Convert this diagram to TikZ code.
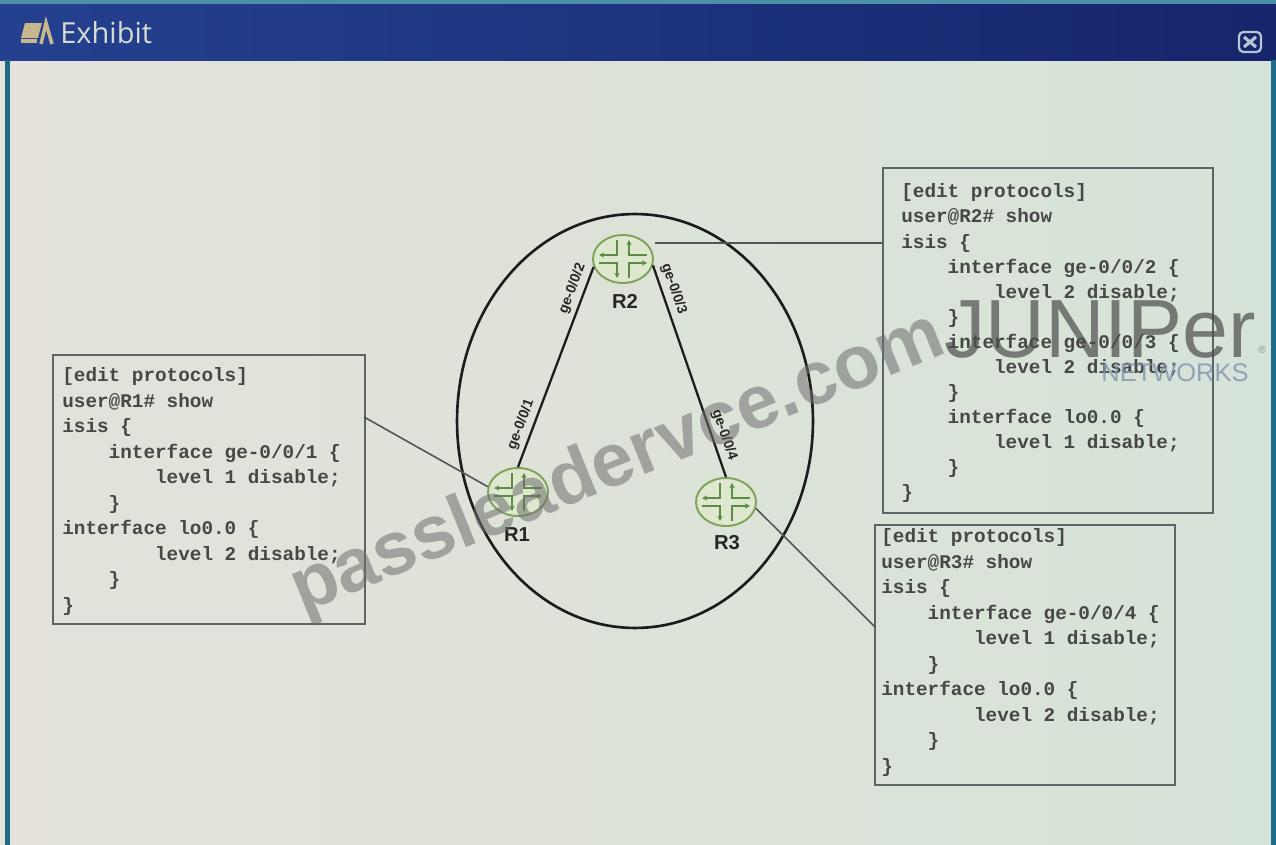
\documentclass[tikz,border=0pt]{standalone}
\usepackage{fontspec}
\setmainfont{Liberation Sans}
\setmonofont{Liberation Mono}
\newfontfamily\titlefont{Open Sans}
\usetikzlibrary{shapes.geometric,arrows.meta,calc}
\definecolor{barL}{HTML}{24418F}
\definecolor{barR}{HTML}{16256C}
\definecolor{topstrip}{HTML}{4C8FA8}
\definecolor{edgeteal}{HTML}{1D6B88}
\definecolor{bgL}{HTML}{E4E2DA}
\definecolor{bgR}{HTML}{D6E3D8}
\definecolor{boxgray}{HTML}{5D6464}
\definecolor{codegray}{HTML}{474747}
\definecolor{labgray}{HTML}{262626}
\definecolor{linkblack}{HTML}{1C1C1C}
\definecolor{conngray}{HTML}{4E5656}
\definecolor{rtrline}{HTML}{7FA35A}
\definecolor{rtrfill}{HTML}{DDE8CF}
\definecolor{icongreen}{HTML}{5E8C45}
\definecolor{titletext}{HTML}{D6DCD2}
\definecolor{easel}{HTML}{C9B78E}
\definecolor{closegray}{HTML}{B6C4D4}
\definecolor{wmgray}{HTML}{6E6E6E}
\definecolor{netblue}{HTML}{8597B0}
\newcommand\iA{\phantom{xxxx}}
\newcommand\iB{\phantom{xxxxxxxx}}
\newcommand\rtricon[1]{%
  \begin{scope}[shift={(#1.center)}]
    \draw[rtrsym,{Stealth[length=3pt,width=3pt]}-] (6,-19) -- (6,-4) -- (24,-4);
    \draw[rtrsym,{Stealth[length=3pt,width=3pt]}-] (-24,-4) -- (-6,-4) -- (-6,-19);
    \draw[rtrsym,{Stealth[length=3pt,width=3pt]}-] (-6,19) -- (-6,4) -- (-24,4);
    \draw[rtrsym,{Stealth[length=3pt,width=3pt]}-] (24,4) -- (6,4) -- (6,19);
  \end{scope}}
\tikzset{
  codebox/.style={draw=boxgray, line width=1.1pt, rectangle, inner sep=0pt},
  codetext/.style={anchor=north west, inner sep=0pt, align=left, text=codegray,
    font=\ttfamily\bfseries\fontsize{11pt}{#1}\selectfont},
  router/.style={ellipse, draw=rtrline, fill=rtrfill, line width=1.1pt,
    minimum width=1.2cm, minimum height=0.96cm, inner sep=0pt},
  rtrsym/.style={draw=icongreen, line width=0.9pt},
  rlabel/.style={font=\bfseries\fontsize{11.5pt}{13pt}\selectfont, text=labgray},
  netlink/.style={draw=linkblack, line width=1.3pt},
  iflabel/.style={font=\bfseries\fontsize{8pt}{9pt}\selectfont, text=labgray,
    sloped, above, inner sep=2.5pt},
  conn/.style={draw=conngray, line width=0.9pt},
}
\begin{document}
\begin{tikzpicture}[x=0.02cm,y=-0.02cm]
\useasboundingbox (0,0) rectangle (1276,845);
% window frame
\shade[left color=bgL, right color=bgR] (0,60) rectangle (1276,845);
\fill[topstrip] (0,0) rectangle (1276,4);
\shade[left color=barL, right color=barR] (0,4) rectangle (1276,60);
\fill[edgeteal] (5,60) rectangle (10,845);
\fill[edgeteal] (1271,60) rectangle (1276,845);
% title bar icon
\fill[easel] (25,23) -- (42,23) -- (38,38) -- (21,38) -- cycle;
\fill[easel] (21,39) rectangle (37,43);
\draw[easel, line width=2pt] (41,44) -- (46,23) -- (52,44);
\node[anchor=west, inner sep=0pt, text=titletext, font=\titlefont\fontsize{16.5pt}{18pt}\selectfont] (title) at (60,33) {Exhibit};
% close button
\draw[closegray, line width=1.3pt, rounded corners=2.5pt] (1239,32) rectangle (1261,52);
\draw[closegray, line width=1.8pt] (1244,37) -- (1256,47) (1244,47) -- (1256,37);

% area ellipse
\node[ellipse, draw=linkblack, line width=1.5pt, minimum width=7.12cm, minimum height=8.28cm, inner sep=0pt] (area) at (635,421) {};

% routers
\node[router] (R2) at (623,259) {};
\node[router] (R1) at (518,492) {};
\node[router] (R3) at (726,502) {};
\rtricon{R1}
\rtricon{R2}
\rtricon{R3}
\node[rlabel] (R2l) at (625,301) {R2};
\node[rlabel] (R1l) at (517,535) {R1};
\node[rlabel] (R3l) at (727,543) {R3};

% links
\draw[netlink] (R2.195) -- node[iflabel, pos=0.13] (if2) {ge-0/0/2} node[iflabel, pos=0.81] (if1) {ge-0/0/1} (R1.north);
\draw[netlink] (R2.-12) -- node[iflabel, pos=0.13] (if3) {ge-0/0/3} node[iflabel, pos=0.82] (if4) {ge-0/0/4} (R3.north);

% code boxes
\node[codebox, minimum width=6.24cm, minimum height=5.38cm] (b1) at (209,489.5) {};
\node[codebox, minimum width=6.6cm, minimum height=6.9cm] (b2) at (1048,340.5) {};
\node[codebox, minimum width=6cm, minimum height=5.2cm] (b3) at (1025,655) {};

\node[codetext=14.5pt] (t1) at (62,364) {\rule{0pt}{10pt}[edit protocols]\\
user@R1\# show\\
isis \{\\
\iA interface ge-0/0/1 \{\\
\iB level 1 disable;\\
\iA \}\\
interface lo0.0 \{\\
\iB level 2 disable;\\
\iA \}\\
\}};

\node[codetext=14.27pt] (t2) at (901,180) {\rule{0pt}{10pt}[edit protocols]\\
user@R2\# show\\
isis \{\\
\iA interface ge-0/0/2 \{\\
\iB level 2 disable;\\
\iA \}\\
\iA interface ge-0/0/3 \{\\
\iB level 2 disable;\\
\iA \}\\
\iA interface lo0.0 \{\\
\iB level 1 disable;\\
\iA \}\\
\}};

\node[codetext=14.5pt] (t3) at (881,525) {\rule{0pt}{10pt}[edit protocols]\\
user@R3\# show\\
isis \{\\
\iA interface ge-0/0/4 \{\\
\iB level 1 disable;\\
\iA \}\\
interface lo0.0 \{\\
\iB level 2 disable;\\
\iA \}\\
\}};

% callout connectors
\coordinate (k1) at (364,417);
\coordinate (k2) at (655,243);
\coordinate (k3) at (875,627);
\draw[conn] (R1.170) -- (k1);
\draw[conn] (k2) -- (k2 -| b2.west);
\draw[conn] (R3.-12) -- (k3);

% watermarks
\node[text=wmgray, opacity=0.55, rotate=22, font=\bfseries\fontsize{43pt}{46pt}\selectfont] (wm) at (618,465) {passleadervce.com};
\node[anchor=base west, inner sep=0pt, text=black!70, opacity=0.7, font=\fontsize{47pt}{52pt}\selectfont] (jlogo) at (944,357) {JUNIPer};
\node[anchor=center, inner sep=0pt, text=black!55, opacity=0.7, font=\fontsize{6pt}{7pt}\selectfont] (reg) at (1262,350) {®};
\node[anchor=base west, inner sep=0pt, text=netblue, opacity=0.85, font=\fontsize{14.5pt}{16pt}\selectfont] (jnet) at (1101,381) {NETWORKS};
\end{tikzpicture}
\end{document}
